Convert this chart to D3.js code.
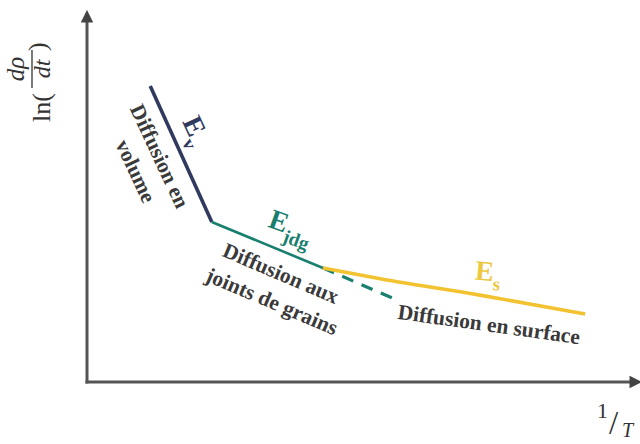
<!DOCTYPE html>
<html>
<head>
<meta charset="utf-8">
<script src="https://cdn.jsdelivr.net/npm/d3@7"></script>
<style>
    body { margin: 0; background: #fff; }
    svg { display: block; }
</style>
</head>
<body>
<div id="chart"></div>
<script>
// regime segments, in arbitrary (1/T, ln(dρ/dt)) units 0..100
const volumeSeg = [[11.6, 81.8], [22.9, 44.2]];
const jointsSeg = [[22.9, 44.2], [43.3, 31.5]];
const jointsExt = [[43.3, 31.5], [56.0, 23.2]];
const surfaceSeg = [[43.3, 31.5], [53.8, 28.5], [72.1, 24.0], [91.4, 18.8]];

const regimeNames = ['Diffusion en', 'volume', 'Diffusion aux', 'joints de grains', 'Diffusion en surface'];
const energyNames = [['E', 'v'], ['E', 'jdg'], ['E', 's']];

const width = 640, height = 444;
const colVol = '#2f3a5e', colJdg = '#19806f', colSurf = '#f2c230', axisCol = '#555';

const svg = d3.select('#chart')
    .append('svg')
    .attr('width', width)
    .attr('height', height);

const x = d3.scaleLinear().domain([0, 100]).range([87, 632]);
const y = d3.scaleLinear().domain([0, 100]).range([382, 20]);

// arrow heads
const defs = svg.append('defs');
defs.append('marker')
    .attr('id', 'arrow')
    .attr('viewBox', '0 0 10 10')
    .attr('refX', 2).attr('refY', 5)
    .attr('markerWidth', 4.2).attr('markerHeight', 4.2)
    .attr('orient', 'auto')
    .append('path')
    .attr('d', 'M0,0 L10,5 L0,10 z')
    .attr('fill', '#444');

// axes: bare arrows, no ticks
const xAxis = svg.append('g')
    .attr('transform', `translate(0, ${y(0)})`)
    .call(d3.axisBottom(x).tickValues([]).tickSizeOuter(0));
const yAxis = svg.append('g')
    .attr('transform', `translate(${x(0)}, 0)`)
    .call(d3.axisLeft(y).tickValues([]).tickSizeOuter(0));
xAxis.select('.domain').attr('d', `M${x(0) - 1.5},0H${x(100)}`);
yAxis.select('.domain').attr('d', `M0,${y(0) + 1.5}V${y(100)}`);
[xAxis, yAxis].forEach(a => a.select('.domain')
    .attr('stroke', axisCol)
    .attr('stroke-width', 3)
    .attr('marker-end', 'url(#arrow)'));

const line = d3.line().x(d => x(d[0])).y(d => y(d[1]));

svg.append('path').datum(jointsExt)
    .attr('d', line).attr('fill', 'none')
    .attr('stroke', colJdg).attr('stroke-width', 3.2)
    .attr('stroke-dasharray', '12 9');
svg.append('path').datum(volumeSeg)
    .attr('d', line).attr('fill', 'none')
    .attr('stroke', colVol).attr('stroke-width', 3.6);
svg.append('path').datum(jointsSeg)
    .attr('d', line).attr('fill', 'none')
    .attr('stroke', colJdg).attr('stroke-width', 2.6);
svg.append('path').datum(surfaceSeg)
    .attr('d', line.curve(d3.curveMonotoneX)).attr('fill', 'none')
    .attr('stroke', colSurf).attr('stroke-width', 3.6);

// regime annotations
const serif = "'Liberation Serif', 'Times New Roman', serif";
const notes = [
    {i: 0, cx: 160, cy: 156, rot: 65},
    {i: 1, cx: 136, cy: 171, rot: 65},
    {i: 2, cx: 281, cy: 273, rot: 23},
    {i: 3, cx: 272, cy: 301, rot: 23},
    {i: 4, cx: 489, cy: 324, rot: 8}
];
notes.forEach(n => {
    svg.append('text')
        .attr('transform', `translate(${n.cx}, ${n.cy}) rotate(${n.rot})`)
        .attr('text-anchor', 'middle')
        .attr('dy', '0.35em')
        .style('font-family', serif)
        .attr('font-weight', 'bold')
        .attr('font-size', 21.5)
        .attr('fill', '#3a3a3a')
        .text(regimeNames[n.i]);
});

// activation energies
const energies = [
    {i: 0, cx: 193, cy: 132, rot: 65, col: colVol},
    {i: 1, cx: 290, cy: 229, rot: 20, col: colJdg},
    {i: 2, cx: 488, cy: 275, rot: 5, col: '#ecc840'}
];
energies.forEach(e => {
    const t = svg.append('text')
        .attr('transform', `translate(${e.cx}, ${e.cy}) rotate(${e.rot})`)
        .attr('text-anchor', 'middle')
        .attr('dy', '0.35em')
        .style('font-family', serif)
        .attr('font-weight', 'bold')
        .attr('fill', e.col);
    t.append('tspan').attr('font-size', 28).text(energyNames[e.i][0]);
    t.append('tspan').attr('font-size', 19).attr('dy', 9).text(energyNames[e.i][1]);
});

// y label: ln(dρ/dt)
const yl = svg.append('g')
    .attr('transform', 'translate(50, 122) rotate(-90)')
    .style('font-family', serif)
    .attr('fill', '#333');
yl.append('text').attr('x', 0).attr('y', 0).attr('font-size', 26).text('ln(');
yl.append('text').attr('x', 53).attr('y', -26).attr('text-anchor', 'middle')
    .attr('font-size', 25).attr('font-style', 'italic').text('dρ');
yl.append('line').attr('x1', 34).attr('x2', 72).attr('y1', -18).attr('y2', -18)
    .attr('stroke', '#333').attr('stroke-width', 1.3);
yl.append('text').attr('x', 53).attr('y', 0).attr('text-anchor', 'middle')
    .attr('font-size', 24).attr('font-style', 'italic').text('dt');
yl.append('text').attr('x', 71).attr('y', -4).attr('font-size', 26).text(')');

// x label: 1/T
const xl = svg.append('g').style('font-family', serif).attr('fill', '#333');
xl.append('text').attr('x', 597).attr('y', 418).attr('font-size', 22).text('1');
xl.append('text').attr('x', 609).attr('y', 434).attr('font-size', 33).text('/');
xl.append('text').attr('x', 622).attr('y', 437).attr('font-size', 20)
    .attr('font-style', 'italic').text('T');
</script>
</body>
</html>
